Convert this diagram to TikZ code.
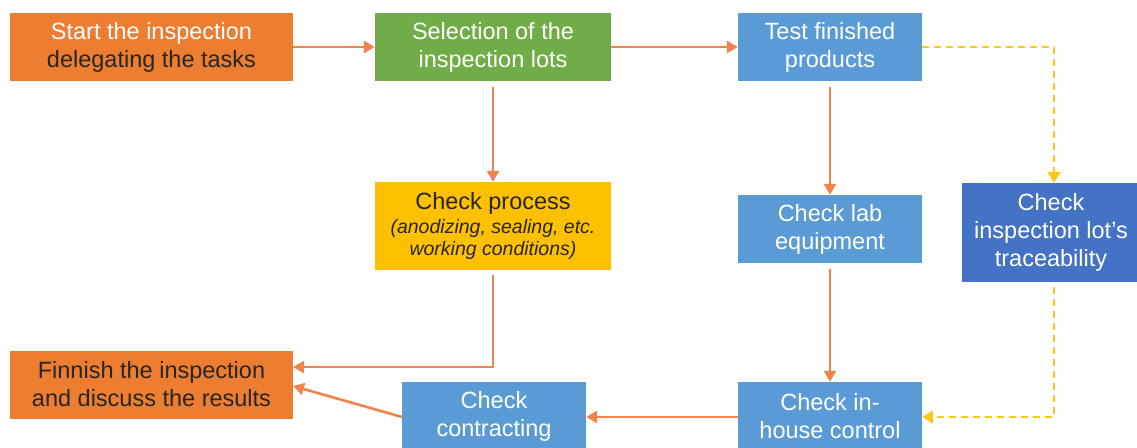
\documentclass[tikz,border=0pt]{standalone}
\usepackage{fontspec}
\setmainfont{Liberation Sans}
\usetikzlibrary{arrows.meta}
\definecolor{borange}{HTML}{ED7D31}
\definecolor{bgreen}{HTML}{70AD47}
\definecolor{bblue}{HTML}{5B9BD5}
\definecolor{byellow}{HTML}{FFC000}
\definecolor{bdblue}{HTML}{4472C4}
\definecolor{aorange}{HTML}{F2834A}
\definecolor{ayellow}{HTML}{FFC71A}
\definecolor{darktext}{HTML}{262626}
\tikzset{
  box/.style={rectangle, draw=none, inner sep=0pt, align=center,
    font=\fontsize{23.5}{28}\selectfont, text=white},
  flow/.style={draw=aorange, line width=2.6pt, -{Triangle[length=11pt,width=12pt]}},
  dflow/.style={draw=ayellow, line width=2.6pt, dash pattern=on 7pt off 5pt, -{Triangle[length=11pt,width=13pt]}},
}
\begin{document}
\begin{tikzpicture}[x=1pt,y=-1pt]
\useasboundingbox (0,0) rectangle (1137,447);
\fill[white] (0,0) rectangle (1137,447);
\begin{scope}
\clip (0,0) rectangle (1137,447);
\node[box, fill=borange, minimum width=283pt, minimum height=68pt] (start) at (151.5,47)
  {Start the inspection\\\textcolor{darktext}{delegating the tasks}};
\node[box, fill=bgreen, minimum width=236pt, minimum height=68pt] (sel) at (493,47)
  {Selection of the\\inspection lots};
\node[box, fill=bblue, minimum width=184pt, minimum height=68pt] (test) at (830,47)
  {Test finished\\products};
\node[box, fill=byellow, minimum width=236pt, minimum height=88pt, text=darktext] (proc) at (493,226)
  {Check process\\[-4pt]{\fontsize{19.5}{22}\selectfont\itshape (anodizing, sealing, etc.}\\[-6pt]{\fontsize{19.5}{22}\selectfont\itshape working conditions)}};
\node[box, fill=bblue, minimum width=184pt, minimum height=68pt] (lab) at (830,229)
  {Check lab\\equipment};
\node[box, fill=bdblue, minimum width=178pt, minimum height=99pt] (trace) at (1051,232.5)
  {Check\\inspection lot's\\traceability};
\node[box, fill=borange, minimum width=283pt, minimum height=68pt, text=darktext] (fin) at (151.5,384.5)
  {Finnish the inspection\\and discuss the results};
\node[box, fill=bblue, minimum width=184pt, minimum height=68pt] (contr) at (494,416)
  {Check\\contracting};
\node[box, fill=bblue, minimum width=184pt, minimum height=68pt] (inh) at (830,416)
  {Check in-\\house control};
\end{scope}
\coordinate (c1) at (1054,47);
\coordinate (c2) at (1054,417);
\coordinate (c3) at (493,367);
\coordinate (finA) at (293,367);
\coordinate (finB) at (293,386);
\coordinate (contrL) at (402,417);
\draw[flow] (start.east) -- (sel.west);
\draw[flow] (sel.east) -- (test.west);
\draw[flow, shorten <=6pt] (sel.south) -- (proc.north);
\draw[flow, shorten <=6pt] (test.south) -- (lab.north);
\draw[flow, shorten <=6pt] (lab.south) -- (inh.north);
\draw[dflow] (test.east) -- (c1) -- (trace.north -| c1);
\draw[dflow, shorten <=5pt] (trace.south -| c2) -- (c2) -- (c2 -| inh.east);
\draw[flow] (inh.west |- c2) -- (contr.east |- c2);
\draw[flow] (contrL) -- (finB);
\draw[flow, shorten <=5pt] (proc.south) -- (c3) -- (finA);
\end{tikzpicture}
\end{document}
